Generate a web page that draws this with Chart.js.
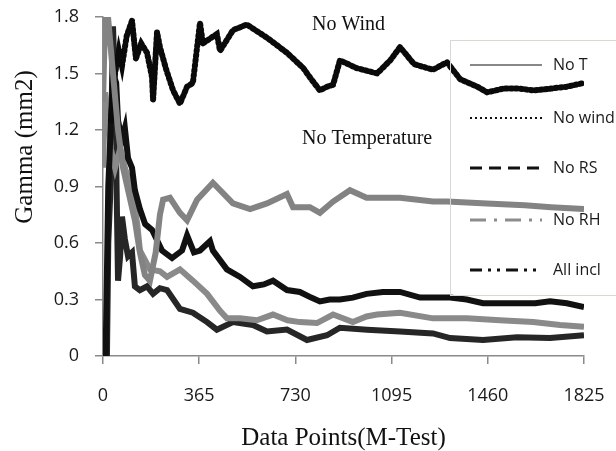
<!DOCTYPE html>
<html>
<head>
<meta charset="UTF-8">
<title>Gamma (mm2) vs Data Points</title>
<script src="https://cdn.jsdelivr.net/npm/chart.js"></script>
<style>
  html, body { margin: 0; padding: 0; background: #fff; }
  #wrap { width: 616px; height: 451px; position: relative; }
</style>
</head>
<body>
<div id="wrap"><canvas id="chart"></canvas></div>
<script>
// tick labels
const xTicks = [0, 365, 730, 1095, 1460, 1825];
const yTicks = [0, 0.3, 0.6, 0.9, 1.2, 1.5, 1.8];

const seriesNames = ['No T', 'No wind', 'No RS', 'No RH', 'All incl'];

// No T (upper grey line)
const noTX = [0, 8, 19, 38, 57, 76, 100, 121, 140, 159, 178, 200, 216, 228, 254, 292, 319, 357, 417, 493, 558, 622, 698, 721, 785, 823, 873, 937, 1000, 1127, 1252, 1305, 1456, 1600, 1700, 1825];
const noTY = [1.35, 1.8, 1.8, 1.5, 1.2, 1.0, 0.85, 0.72, 0.55, 0.43, 0.4, 0.55, 0.75, 0.83, 0.84, 0.76, 0.72, 0.83, 0.92, 0.81, 0.78, 0.81, 0.86, 0.79, 0.79, 0.76, 0.82, 0.88, 0.84, 0.84, 0.82, 0.82, 0.81, 0.8, 0.79, 0.78];

// No wind (top dotted line)
const noWindX = [30, 40, 60, 72, 90, 110, 125, 145, 167, 186, 190, 205, 216, 240, 266, 292, 319, 341, 368, 379, 432, 444, 493, 546, 622, 698, 759, 790, 823, 850, 873, 899, 960, 1040, 1090, 1127, 1180, 1252, 1305, 1355, 1420, 1457, 1520, 1580, 1632, 1700, 1760, 1825];
const noWindY = [1.25, 1.45, 1.62, 1.54, 1.7, 1.78, 1.58, 1.66, 1.61, 1.48, 1.36, 1.72, 1.64, 1.52, 1.41, 1.34, 1.43, 1.45, 1.77, 1.66, 1.71, 1.62, 1.73, 1.76, 1.69, 1.61, 1.53, 1.47, 1.41, 1.43, 1.44, 1.57, 1.53, 1.5, 1.57, 1.64, 1.55, 1.52, 1.56, 1.47, 1.43, 1.4, 1.42, 1.42, 1.41, 1.42, 1.43, 1.45];

// No RS (black)
const noRSX = [10, 20, 38, 50, 57, 72, 83, 95, 110, 121, 140, 160, 186, 224, 262, 300, 319, 345, 368, 406, 417, 470, 520, 569, 610, 645, 698, 747, 790, 823, 860, 899, 948, 1000, 1062, 1127, 1203, 1317, 1380, 1442, 1500, 1571, 1640, 1696, 1760, 1825];
const noRSY = [0.0, 0.9, 1.5, 1.45, 1.25, 1.15, 1.21, 1.05, 1.0, 0.88, 0.78, 0.7, 0.67, 0.56, 0.52, 0.56, 0.64, 0.55, 0.56, 0.61, 0.56, 0.46, 0.42, 0.37, 0.38, 0.4, 0.35, 0.34, 0.31, 0.29, 0.3, 0.3, 0.31, 0.33, 0.34, 0.34, 0.31, 0.31, 0.3, 0.28, 0.28, 0.28, 0.28, 0.29, 0.28, 0.26];

// No RH (lower grey line)
const noRHX = [0, 8, 19, 30, 46, 65, 83, 110, 130, 140, 178, 216, 243, 292, 341, 395, 444, 470, 520, 584, 645, 700, 747, 812, 873, 948, 1000, 1040, 1127, 1252, 1381, 1506, 1632, 1734, 1825];
const noRHY = [1.0, 1.4, 1.3, 1.1, 1.0, 1.1, 1.0, 0.88, 0.7, 0.56, 0.46, 0.45, 0.42, 0.46, 0.4, 0.33, 0.24, 0.2, 0.2, 0.19, 0.22, 0.19, 0.18, 0.175, 0.22, 0.18, 0.21, 0.22, 0.23, 0.2, 0.2, 0.19, 0.18, 0.165, 0.155];

// All incl (dark)
const allInclX = [5, 12, 15, 20, 27, 38, 46, 57, 65, 72, 83, 95, 110, 121, 140, 167, 190, 216, 243, 292, 341, 395, 432, 493, 569, 622, 698, 774, 850, 899, 1002, 1127, 1252, 1317, 1442, 1571, 1696, 1825];
const allInclY = [0.0, 0.15, 0.0, 0.6, 0.84, 1.75, 1.4, 0.4, 0.53, 0.74, 0.62, 0.53, 0.55, 0.37, 0.35, 0.37, 0.33, 0.36, 0.35, 0.25, 0.23, 0.18, 0.14, 0.18, 0.165, 0.13, 0.14, 0.085, 0.11, 0.15, 0.14, 0.13, 0.12, 0.095, 0.085, 0.1, 0.095, 0.11];

function pts(xs, ys) { return xs.map((x, i) => ({ x: x, y: ys[i] })); }

const legendStyles = [
  { color: '#888888', dash: [], width: 2 },
  { color: '#111111', dash: [2, 3], width: 2 },
  { color: '#111111', dash: [12, 7], width: 3 },
  { color: '#8c8c8c', dash: [16, 8, 3, 8], width: 3 },
  { color: '#111111', dash: [12, 6, 3, 6, 3, 6], width: 3 }
];

// legend box overlapping the plot, y title and the two text notes
const notesPlugin = {
  id: 'notes',
  afterDraw(chart) {
    const ctx = chart.ctx;
    ctx.save();
    ctx.strokeStyle = '#d9d9cf';
    ctx.lineWidth = 1;
    ctx.strokeRect(450.5, 40.5, 200, 255);
    const rows = [65, 118, 168, 220, 270];
    ctx.font = '16px "Open Sans", sans-serif';
    ctx.textBaseline = 'middle';
    seriesNames.forEach((name, i) => {
      const st = legendStyles[i];
      ctx.beginPath();
      ctx.setLineDash(st.dash);
      ctx.strokeStyle = st.color;
      ctx.lineWidth = st.width;
      ctx.moveTo(470, rows[i]);
      ctx.lineTo(542, rows[i]);
      ctx.stroke();
      ctx.setLineDash([]);
      ctx.fillStyle = '#1a1a1a';
      ctx.fillText(name, 553, rows[i]);
    });
    ctx.font = '20px "Liberation Serif", serif';
    ctx.fillStyle = '#111';
    ctx.fillText('No Wind', 312, 25);
    ctx.fillText('No Temperature', 302, 139);

    ctx.font = '25px "Liberation Serif", serif';
    ctx.textAlign = 'center';
    ctx.translate(25, 147);
    ctx.rotate(-Math.PI / 2);
    ctx.fillText('Gamma (mm2)', 0, 0);
    ctx.restore();
  }
};

const lineDs = (label, data, color, extra) => Object.assign({
  label: label,
  data: data,
  borderColor: color,
  backgroundColor: color,
  borderWidth: 6,
  pointRadius: 0,
  tension: 0,
  fill: false
}, extra || {});

new Chart(document.getElementById('chart'), {
  type: 'line',
  data: {
    datasets: [
      lineDs(seriesNames[0], pts(noTX, noTY), '#838383'),
      lineDs(seriesNames[1], pts(noWindX, noWindY), '#0a0a0a', { borderDash: [2, 3], borderCapStyle: 'round', borderWidth: 6 }),
      lineDs(seriesNames[2], pts(noRSX, noRSY), '#111111'),
      lineDs(seriesNames[3], pts(noRHX, noRHY), '#8a8a8a'),
      lineDs(seriesNames[4], pts(allInclX, allInclY), '#262626')
    ]
  },
  options: {
    responsive: true,
    maintainAspectRatio: false,
    animation: false,
    devicePixelRatio: 1,
    layout: { padding: { left: 0, right: 32, top: 17, bottom: 0 } },
    plugins: { legend: { display: false }, tooltip: { enabled: false } },
    scales: {
      x: {
        type: 'linear',
        min: 0, max: 1825,
        afterBuildTicks: s => { s.ticks = xTicks.map(v => ({ value: v })); },
        afterFit: s => { s.height = 95; s.paddingLeft = 0; s.paddingRight = 0; },
        grid: { drawOnChartArea: false, drawTicks: true, tickLength: 8, color: '#8a8a8a', lineWidth: 1.5 },
        border: { color: '#8a8a8a', width: 1.5 },
        ticks: { color: '#1a1a1a', font: { family: '"Open Sans", sans-serif', size: 18 }, padding: 21, maxRotation: 0, callback: v => String(v) },
        title: { display: true, text: 'Data Points(M-Test)', color: '#111', padding: { top: 4, bottom: 0 }, font: { family: '"Liberation Serif", serif', size: 25, lineHeight: 1 } }
      },
      y: {
        min: 0, max: 1.8,
        afterBuildTicks: s => { s.ticks = yTicks.map(v => ({ value: v })); },
        afterFit: s => { s.width = 103; s.paddingTop = 0; s.paddingBottom = 0; },
        grid: { drawOnChartArea: false, drawTicks: true, tickLength: 8, color: '#8a8a8a', lineWidth: 1.5 },
        border: { color: '#8a8a8a', width: 1.5 },
        ticks: { color: '#1a1a1a', font: { family: '"Open Sans", sans-serif', size: 18 }, padding: 16, callback: v => String(v) }
      }
    }
  },
  plugins: [notesPlugin]
});
</script>
</body>
</html>
